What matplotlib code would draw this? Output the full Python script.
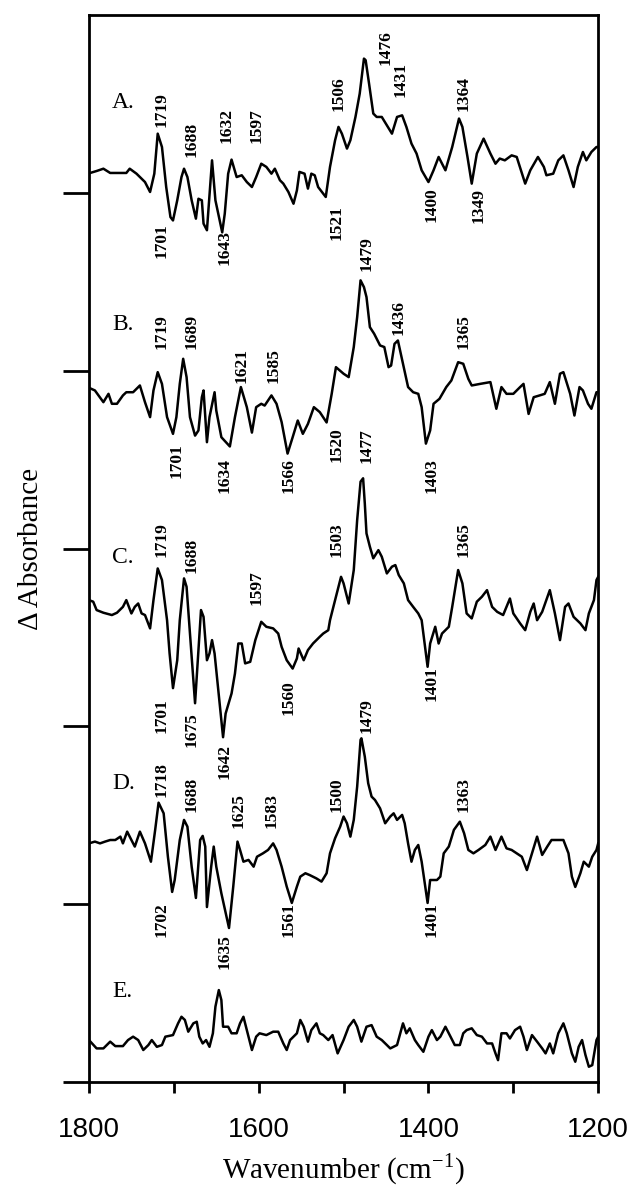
import matplotlib
matplotlib.use("Agg")
import matplotlib.pyplot as plt
from matplotlib.ticker import MultipleLocator, NullFormatter

# difference spectra, wavenumber (cm-1) and delta absorbance (arb. units, tick = 10)
wn_a = [1800, 1791, 1783, 1775, 1756, 1752, 1744, 1734, 1728, 1723, 1719, 1714, 1709, 1704, 1701,
        1696, 1691, 1688, 1684, 1679, 1674, 1671, 1667, 1665, 1661, 1655, 1651, 1643, 1640, 1636,
        1632, 1626, 1620, 1614, 1608, 1603, 1597, 1591, 1585, 1581, 1575, 1571, 1565, 1559, 1555,
        1552, 1546, 1542, 1538, 1534, 1530, 1521, 1516, 1510, 1506, 1502, 1496, 1492, 1486, 1481,
        1476, 1474, 1470, 1465, 1461, 1455, 1449, 1443, 1437, 1431, 1426, 1420, 1414, 1408, 1400,
        1394, 1388, 1380, 1372, 1364, 1360, 1354, 1349, 1343, 1335, 1327, 1321, 1316, 1310, 1302,
        1296, 1286, 1280, 1271, 1264, 1261, 1253, 1247, 1241, 1235, 1229, 1224, 1218, 1214, 1208,
        1202, 1200]
a_vals = [0.0, 0.13, 0.26, 0.02, 0.02, 0.26, -0.02, -0.49, -1.05, -0.02, 2.23, 1.48, -0.77, -2.46, -2.65,
          -1.52, -0.21, 0.26, -0.21, -1.52, -2.55, -1.43, -1.52, -2.83, -3.2, 0.73, -1.52, -3.32, -2.27, -0.02,
          0.77, -0.21, -0.11, -0.49, -0.77, -0.21, 0.54, 0.36, -0.02, 0.26, -0.39, -0.58, -1.05, -1.71, -0.96,
          0.08, -0.02, -0.86, -0.02, -0.11, -0.77, -1.33, 0.36, 1.86, 2.61, 2.23, 1.39, 1.86, 3.17, 4.48,
          6.45, 6.36, 5.05, 3.36, 3.17, 3.17, 2.7, 2.23, 3.17, 3.26, 2.61, 1.67, 1.11, 0.17, -0.49,
          0.17, 0.92, 0.17, 1.48, 3.08, 2.61, 0.92, -0.58, 1.11, 1.95, 1.11, 0.54, 0.83, 0.73, 1.01,
          0.92, -0.58, 0.17, 0.92, 0.36, -0.11, -0.02, 0.73, 1.01, 0.17, -0.77, 0.36, 1.2, 0.73, 1.2,
          1.48, 1.48]

wn_b = [1800, 1793, 1783, 1777, 1773, 1767, 1760, 1756, 1748, 1740, 1734, 1728, 1724, 1719, 1714,
        1708, 1701, 1697, 1693, 1689, 1685, 1681, 1675, 1671, 1667, 1665, 1661, 1658, 1652, 1650,
        1644, 1634, 1628, 1621, 1614, 1608, 1603, 1597, 1593, 1585, 1579, 1573, 1566, 1560, 1554,
        1548, 1542, 1535, 1528, 1520, 1514, 1509, 1500, 1494, 1488, 1484, 1480, 1476, 1473, 1469,
        1464, 1457, 1452, 1447, 1444, 1440, 1436, 1430, 1424, 1418, 1412, 1408, 1403, 1398, 1394,
        1387, 1379, 1373, 1365, 1359, 1353, 1349, 1339, 1327, 1320, 1314, 1308, 1300, 1292, 1288,
        1282, 1276, 1269, 1263, 1257, 1251, 1245, 1241, 1233, 1228, 1222, 1218, 1212, 1208, 1202,
        1200]
b_vals = [0.04, -0.11, -0.77, -0.3, -0.86, -0.86, -0.39, -0.21, -0.21, 0.17, -0.77, -1.61, -0.11, 0.92, 0.26,
          -1.61, -2.55, -1.61, 0.26, 1.67, 0.64, -1.61, -2.65, -2.36, -0.49, -0.11, -3.02, -1.61, -0.21, -1.24,
          -2.74, -3.26, -1.61, 0.08, -1.05, -2.48, -1.05, -0.86, -0.96, -0.39, -0.86, -1.89, -3.66, -2.74, -1.8,
          -2.55, -1.99, -1.05, -1.33, -1.91, -0.3, 1.2, 0.83, 0.64, 2.33, 4.01, 6.08, 5.7, 5.14, 3.45,
          3.08, 2.42, 2.33, 1.2, 1.29, 2.51, 2.7, 1.39, 0.08, -0.21, -0.3, -1.05, -3.1, -2.36, -0.86,
          -0.58, 0.08, 0.45, 1.48, 1.39, 0.54, 0.17, 0.26, 0.36, -1.14, 0.08, -0.3, -0.3, 0.08, 0.26,
          -1.43, -0.49, -0.39, -0.3, 0.36, -0.86, 0.83, 0.92, -0.3, -1.52, 0.08, -0.11, -0.86, -1.14, -0.21,
          -0.21]

wn_c = [1800, 1795, 1791, 1783, 1773, 1767, 1760, 1756, 1750, 1746, 1742, 1738, 1734, 1728, 1724,
        1719, 1714, 1708, 1705, 1701, 1696, 1693, 1688, 1685, 1681, 1675, 1670, 1668, 1665, 1661,
        1658, 1655, 1652, 1642, 1639, 1632, 1628, 1624, 1620, 1616, 1610, 1604, 1597, 1591, 1583,
        1577, 1573, 1567, 1560, 1555, 1553, 1547, 1542, 1536, 1528, 1524, 1518, 1516, 1510, 1503,
        1500, 1494, 1488, 1484, 1480, 1477, 1475, 1473, 1469, 1465, 1459, 1455, 1449, 1443, 1439,
        1435, 1429, 1424, 1418, 1412, 1408, 1404, 1401, 1398, 1392, 1388, 1384, 1376, 1372, 1365,
        1360, 1355, 1349, 1343, 1337, 1331, 1325, 1319, 1312, 1304, 1300, 1292, 1286, 1280, 1276,
        1272, 1266, 1257, 1251, 1245, 1239, 1235, 1229, 1221, 1215, 1211, 1205, 1202, 1200]
c_vals = [0.0, -0.09, -0.56, -0.71, -0.84, -0.71, -0.38, 0.0, -0.75, -0.38, -0.19, -0.75, -0.84, -1.59, 0.0,
          1.78, 1.13, -1.13, -3.0, -4.95, -3.38, -1.13, 1.22, 0.75, -1.88, -5.8, -2.06, -0.56, -0.94, -3.38,
          -3.0, -2.25, -3.0, -7.71, -6.38, -5.25, -4.13, -2.44, -2.44, -3.56, -3.47, -2.25, -1.22, -1.5, -1.59,
          -1.88, -2.63, -3.38, -3.85, -3.28, -2.72, -3.38, -2.81, -2.44, -2.06, -1.88, -1.69, -1.13, 0.0, 1.31,
          0.94, -0.19, 1.69, 4.5, 6.66, 6.85, 5.44, 3.75, 3.0, 2.35, 2.81, 2.44, 1.5, 1.88, 1.97,
          1.41, 0.94, 0.0, -0.38, -0.75, -1.13, -2.63, -3.75, -2.44, -1.5, -2.44, -1.88, -1.5, -0.38, 1.69,
          0.94, -0.75, -1.03, -0.09, 0.19, 0.56, -0.38, -0.66, -0.84, 0.09, -0.75, -1.31, -1.69, -0.66, -0.19,
          -1.13, -0.66, 0.56, -0.75, -2.25, -0.38, -0.19, -0.94, -1.31, -1.69, -0.75, 0.0, 1.13, 1.31]

wn_d = [1800, 1793, 1787, 1781, 1775, 1769, 1763, 1760, 1755, 1750, 1746, 1740, 1734, 1727, 1722,
        1718, 1712, 1707, 1702, 1699, 1693, 1688, 1684, 1679, 1674, 1669, 1666, 1663, 1661, 1656,
        1653, 1650, 1644, 1635, 1630, 1625, 1622, 1618, 1612, 1606, 1602, 1595, 1589, 1583, 1579,
        1573, 1567, 1561, 1555, 1551, 1545, 1540, 1532, 1526, 1520, 1516, 1510, 1504, 1500, 1496,
        1492, 1488, 1484, 1480, 1479, 1475, 1471, 1467, 1463, 1457, 1451, 1445, 1441, 1437, 1431,
        1428, 1424, 1420, 1416, 1412, 1408, 1401, 1398, 1390, 1386, 1382, 1376, 1370, 1363, 1358,
        1353, 1347, 1341, 1333, 1327, 1321, 1314, 1308, 1302, 1296, 1290, 1284, 1278, 1272, 1266,
        1260, 1255, 1241, 1235, 1231, 1227, 1221, 1217, 1211, 1207, 1202, 1200]
d_vals = [-0.08, 0.02, -0.08, 0.02, 0.11, 0.11, 0.3, -0.08, 0.58, 0.11, -0.26, 0.58, -0.08, -1.11, 0.68,
          2.21, 1.61, -0.83, -2.81, -2.14, 0.11, 1.24, 0.86, -1.39, -3.15, 0.11, 0.34, -0.26, -3.66, -1.39,
          -0.26, -1.39, -2.89, -4.84, -2.51, 0.02, -0.45, -1.11, -1.01, -1.39, -0.83, -0.64, -0.45, -0.08, -0.45,
          -1.39, -2.51, -3.43, -2.51, -1.95, -1.76, -1.86, -2.05, -2.23, -1.76, -0.64, 0.21, 0.86, 1.43, 1.05,
          0.3, 1.24, 3.11, 5.74, 5.83, 4.8, 3.3, 2.55, 2.36, 1.89, 1.05, 1.43, 1.61, 1.24, 1.52,
          1.05, -0.08, -1.11, -0.45, -0.17, -1.11, -3.43, -2.14, -2.14, -1.95, -0.64, -0.26, 0.68, 1.14, 0.49,
          -0.45, -0.64, -0.45, -0.17, 0.3, -0.45, 0.3, -0.36, -0.45, -0.64, -0.83, -1.58, -0.64, 0.3, -0.73,
          -0.26, 0.11, 0.11, -0.64, -1.95, -2.53, -1.76, -1.11, -1.39, -0.83, -0.45, -0.08]

wn_e = [1800, 1791, 1783, 1775, 1769, 1760, 1754, 1748, 1742, 1736, 1730, 1726, 1720, 1714, 1710,
        1701, 1695, 1691, 1687, 1683, 1677, 1673, 1670, 1666, 1662, 1658, 1654, 1651, 1647, 1644,
        1642, 1636, 1632, 1626, 1622, 1618, 1614, 1608, 1603, 1599, 1591, 1583, 1577, 1571, 1567,
        1563, 1555, 1551, 1547, 1542, 1538, 1532, 1528, 1524, 1518, 1513, 1507, 1500, 1494, 1488,
        1484, 1479, 1473, 1467, 1461, 1455, 1449, 1445, 1437, 1430, 1426, 1422, 1416, 1412, 1406,
        1400, 1396, 1390, 1386, 1380, 1374, 1369, 1363, 1359, 1355, 1349, 1343, 1337, 1331, 1325,
        1321, 1318, 1314, 1308, 1304, 1298, 1292, 1288, 1284, 1278, 1272, 1266, 1262, 1257, 1253,
        1247, 1241, 1237, 1231, 1227, 1223, 1219, 1215, 1211, 1207, 1202, 1200]
e_vals = [0.0, -0.47, -0.47, -0.09, -0.34, -0.34, 0.0, 0.19, 0.0, -0.56, -0.28, 0.0, -0.38, -0.28, 0.19,
          0.28, 0.94, 1.31, 1.13, 0.47, 0.94, 1.03, 0.19, -0.19, 0.0, -0.38, 0.38, 1.88, 2.81, 2.25,
          0.75, 0.75, 0.38, 0.38, 0.94, 1.31, 0.56, -0.56, 0.19, 0.38, 0.28, 0.47, 0.47, -0.19, -0.56,
          0.0, 0.38, 1.13, 0.75, -0.09, 0.56, 0.94, 0.38, 0.28, 0.0, 0.28, -0.75, 0.0, 0.75, 1.13,
          0.75, -0.09, 0.75, 0.84, 0.19, 0.0, -0.28, -0.47, -0.28, 0.94, 0.38, 0.66, 0.0, -0.28, -0.66,
          0.19, 0.56, 0.0, 0.19, 0.75, 0.19, -0.28, -0.28, 0.38, 0.56, 0.66, 0.28, 0.19, -0.19, -0.19,
          -0.75, -1.13, 0.38, 0.38, 0.09, 0.56, 0.75, 0.19, -0.56, 0.28, -0.09, -0.47, -0.75, -0.19, -0.75,
          0.38, 0.94, 0.38, -0.75, -1.22, -0.38, 0.0, -0.84, -1.5, -1.41, 0.0, 0.19]

spectra = [(wn_a, a_vals), (wn_b, b_vals), (wn_c, c_vals), (wn_d, d_vals), (wn_e, e_vals)]
panel_names = ['A.', 'B.', 'C.', 'D.', 'E.']
offsets = [51.1, 39.0, 27.1, 13.5, 2.36]

# peak labels: text, x (cm-1), y, above/below
peak_labels = [
    ('1719', 1714, 53.7, 'up'), ('1688', 1679, 52.0, 'up'), ('1632', 1638, 52.8, 'up'),
    ('1597', 1602, 52.8, 'up'), ('1506', 1506, 54.6, 'up'), ('1476', 1451, 57.2, 'up'),
    ('1431', 1433, 55.4, 'up'), ('1364', 1359, 54.6, 'up'),
    ('1701', 1714, 48.3, 'dn'), ('1643', 1640, 47.9, 'dn'), ('1521', 1508, 49.3, 'dn'),
    ('1400', 1396, 50.3, 'dn'), ('1349', 1341, 50.3, 'dn'),
    ('1719', 1714, 41.2, 'up'), ('1689', 1679, 41.2, 'up'), ('1621', 1620, 39.3, 'up'),
    ('1585', 1583, 39.3, 'up'), ('1479', 1473, 45.6, 'up'), ('1436', 1435, 42.0, 'up'),
    ('1365', 1359, 41.2, 'up'),
    ('1701', 1697, 35.9, 'dn'), ('1634', 1640, 35.1, 'dn'), ('1566', 1565, 35.1, 'dn'),
    ('1520', 1508, 36.8, 'dn'), ('1403', 1396, 35.1, 'dn'),
    ('1477', 1473, 34.8, 'up'), ('1719', 1714, 29.5, 'up'), ('1688', 1679, 28.6, 'up'),
    ('1597', 1602, 26.8, 'up'), ('1503', 1508, 29.5, 'up'), ('1365', 1359, 29.5, 'up'),
    ('1701', 1714, 21.6, 'dn'), ('1675', 1679, 20.8, 'dn'), ('1642', 1640, 19.0, 'dn'),
    ('1560', 1565, 22.6, 'dn'), ('1401', 1396, 23.4, 'dn'),
    ('1718', 1714, 16.0, 'up'), ('1688', 1679, 15.2, 'up'), ('1625', 1624, 14.3, 'up'),
    ('1583', 1585, 14.3, 'up'), ('1500', 1508, 15.2, 'up'), ('1479', 1473, 19.6, 'up'),
    ('1363', 1359, 15.2, 'up'),
    ('1702', 1714, 10.1, 'dn'), ('1635', 1640, 8.3, 'dn'), ('1561', 1565, 10.1, 'dn'),
    ('1401', 1396, 10.1, 'dn'),
]
name_y = [55.1, 42.6, 29.5, 16.8, 5.1]

fig = plt.figure(figsize=(6.31, 11.85), dpi=100)
ax = fig.add_axes([0.141, 0.0869, 0.807, 0.9004])

for (wn, vals), off in zip(spectra, offsets):
    ax.plot(wn, [v + off for v in vals], color='black', lw=1.8)

for name, y in zip(panel_names, name_y):
    ax.text(1773, y, name, fontsize=17, family='Liberation Serif', va='center', ha='left')

for txt, x, y, pos in peak_labels:
    ax.text(x, y, txt, rotation=90, ha='center', va='bottom' if pos == 'up' else 'top',
            fontsize=12.5, fontweight='bold', family='Liberation Serif')

ax.set_xlim(1800, 1200)
ax.set_ylim(0, 60)
ax.xaxis.set_major_locator(MultipleLocator(200))
ax.xaxis.set_minor_locator(MultipleLocator(100))
ax.xaxis.set_minor_formatter(NullFormatter())
ax.set_yticks([0, 10, 20, 30, 40, 50])
ax.set_yticklabels([])
ax.tick_params(axis='x', which='both', direction='out', length=8, width=2, pad=17)
ax.tick_params(axis='y', direction='out', length=19, width=2)
for lab in ax.get_xticklabels():
    lab.set_family('Liberation Sans')
    lab.set_fontsize(20)
for sp in ax.spines.values():
    sp.set_linewidth(2)

ax.set_xlabel('Wavenumber (cm$^{\\mathregular{-1}}$)', family='Liberation Serif', fontsize=21, labelpad=6)
ax.set_ylabel('\u0394 Absorbance', family='Liberation Serif', fontsize=21, labelpad=10)

fig.savefig('out.png', dpi=100)
